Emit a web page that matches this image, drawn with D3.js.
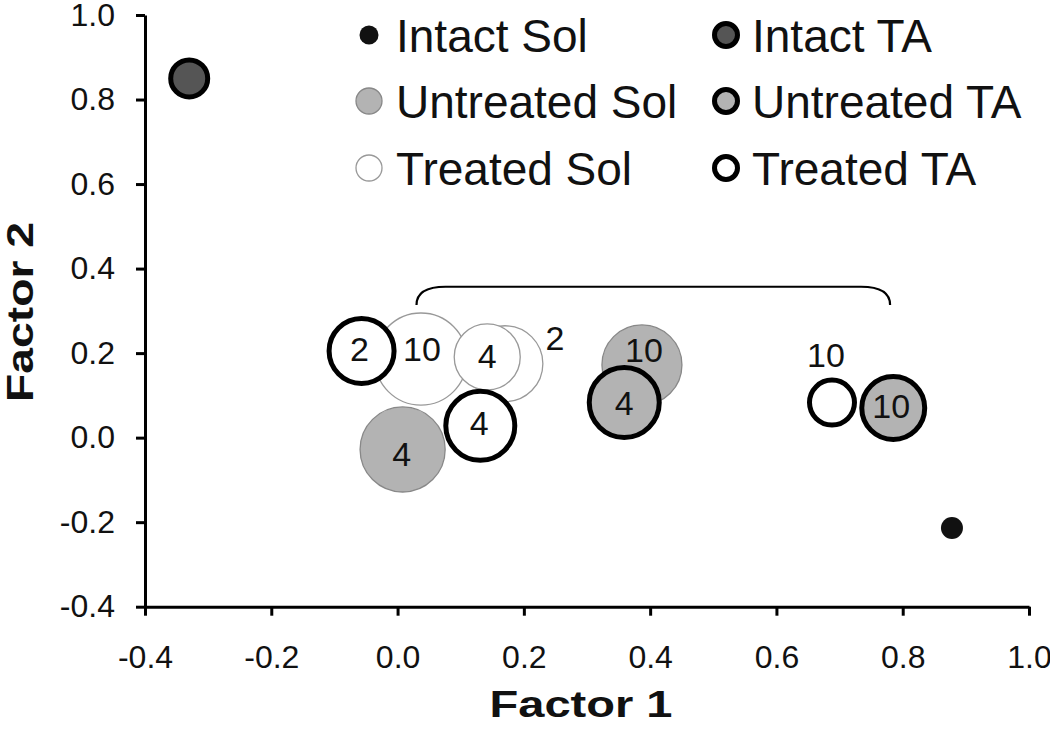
<!DOCTYPE html>
<html><head><meta charset="utf-8">
<script src="https://cdn.jsdelivr.net/npm/d3@7"></script>
<style>body{margin:0;background:#fff} text{font-family:"Liberation Sans",Arial,sans-serif}</style>
</head><body><svg id="c" width="1050" height="732"></svg>
<script>
// ---- data ----
const groups = ["Intact Sol","Intact TA","Untreated Sol","Untreated TA","Treated Sol","Treated TA"];
const pointGroup = ["Treated Sol","Treated Sol","Treated Sol","Untreated Sol","Untreated Sol","Treated TA","Treated TA","Untreated TA","Treated TA","Untreated TA","Intact TA","Intact Sol"];
const pointLabel = ["2","10","4","4","10","2","4","4","10","10","",""];
const factor1 = [0.170,0.037,0.142,0.008,0.387,-0.057,0.131,0.359,0.688,0.785,-0.330,0.878];
const factor2 = [0.175,0.186,0.191,-0.028,0.172,0.205,0.028,0.083,0.083,0.070,0.850,-0.214];
const pointSize = [14.4,21.2,10.9,18.1,16,10.56,11.9,12.25,5.06,9.9,3.42,1.21];
const xTicks = [-0.4,-0.2,0.0,0.2,0.4,0.6,0.8,1.0];
const yTicks = [-0.4,-0.2,0.0,0.2,0.4,0.6,0.8,1.0];
const bracketX = [0.030,0.780];
const bracketY = [0.314,0.357];

// ---- styles ----
const style = {
  "Intact Sol":   {fill:"#111", stroke:"none", sw:0},
  "Intact TA":    {fill:"#555", stroke:"#000", sw:5},
  "Untreated Sol":{fill:"#b3b3b3", stroke:"#888", sw:1.3},
  "Untreated TA": {fill:"#b3b3b3", stroke:"#000", sw:5},
  "Treated Sol":  {fill:"#fff", stroke:"#999", sw:1.3},
  "Treated TA":   {fill:"#fff", stroke:"#000", sw:5}
};
// label offsets (px) relative to bubble centre
const labelOffset = [[50,-26],[1,-10],[0,-1],[-1,4],[2,-15],[-2,-2],[-1,-3],[0,0],[-6,-48],[-2,-2],[0,0],[0,0]];

const svg = d3.select("#c");
const x = d3.scaleLinear([-0.4,1.0],[145,1029]);
const y = d3.scaleLinear([-0.4,1.0],[606.7,15]);
const r = d3.scaleSqrt([0,25],[0,50]);
const fmt = d => d.toFixed(1);

// axes
const gx = svg.append("g").attr("transform",`translate(0,${y(-0.4)})`)
  .call(d3.axisBottom(x).tickValues(xTicks).tickFormat(fmt).tickSize(9).tickSizeOuter(0).tickPadding(30));
const gy = svg.append("g").attr("transform",`translate(${x(-0.4)},0)`)
  .call(d3.axisLeft(y).tickValues(yTicks).tickFormat(fmt).tickSize(9).tickSizeOuter(0).tickPadding(21));
[gx,gy].forEach(g=>{
  g.select(".domain").attr("stroke","#000").attr("stroke-width",3);
  g.selectAll(".tick line").attr("stroke","#000").attr("stroke-width",3);
  g.selectAll(".tick text").attr("font-size",32).attr("fill","#111").attr("font-family","Liberation Sans, Arial, sans-serif");
});

svg.append("text").attr("x",581).attr("y",717).attr("text-anchor","middle")
  .attr("font-size",37).attr("font-weight","bold").attr("fill","#111")
  .attr("textLength",183).attr("lengthAdjust","spacingAndGlyphs").text("Factor 1");
svg.append("text").attr("transform","translate(33,312) rotate(-90)").attr("text-anchor","middle")
  .attr("font-size",37).attr("font-weight","bold").attr("fill","#111")
  .attr("textLength",180).attr("lengthAdjust","spacingAndGlyphs").text("Factor 2");

// bracket
const bx0 = x(bracketX[0]), bx1 = x(bracketX[1]), by0 = y(bracketY[0]), by1 = y(bracketY[1]);
const rc = by0 - by1;
svg.append("path").attr("fill","none").attr("stroke","#000").attr("stroke-width",2.2)
  .attr("d",`M${bx0},${by0} Q${bx0},${by1} ${bx0+rc*1.6},${by1} L${bx1-rc*1.6},${by1} Q${bx1},${by1} ${bx1},${by0}`);

// points
const pts = factor1.map((v,i)=>({x:v,y:factor2[i],g:pointGroup[i],lab:pointLabel[i],s:pointSize[i],off:labelOffset[i]}));
svg.append("g").selectAll("circle").data(pts).join("circle")
  .attr("cx",d=>x(d.x)).attr("cy",d=>y(d.y)).attr("r",d=>r(d.s))
  .attr("fill",d=>style[d.g].fill).attr("stroke",d=>style[d.g].stroke).attr("stroke-width",d=>style[d.g].sw);
svg.append("g").selectAll("text").data(pts.filter(d=>d.lab)).join("text")
  .attr("x",d=>x(d.x)+d.off[0]).attr("y",d=>y(d.y)+d.off[1]).attr("dy","0.36em")
  .attr("text-anchor","middle").attr("font-size",34).attr("fill","#111").text(d=>d.lab);

// legend
const legPos = [[369,35],[726,35],[369,101],[726,101],[369,168],[726,168]];
const legR = {"Intact Sol":9.5,"Intact TA":11.5,"Untreated Sol":13,"Untreated TA":11.5,"Treated Sol":13,"Treated TA":11.5};
const lg = svg.append("g");
groups.forEach((gname,i)=>{
  const [lx,ly] = legPos[i];
  const st = style[gname];
  lg.append("circle").attr("cx",lx).attr("cy",ly).attr("r",legR[gname])
    .attr("fill",st.fill).attr("stroke",st.stroke).attr("stroke-width",st.sw>2?5:st.sw);
  lg.append("text").attr("x",gname.includes("TA")?752:396).attr("y",ly+17)
    .attr("font-size",46).attr("fill","#111").text(gname);
});
</script></body></html>
